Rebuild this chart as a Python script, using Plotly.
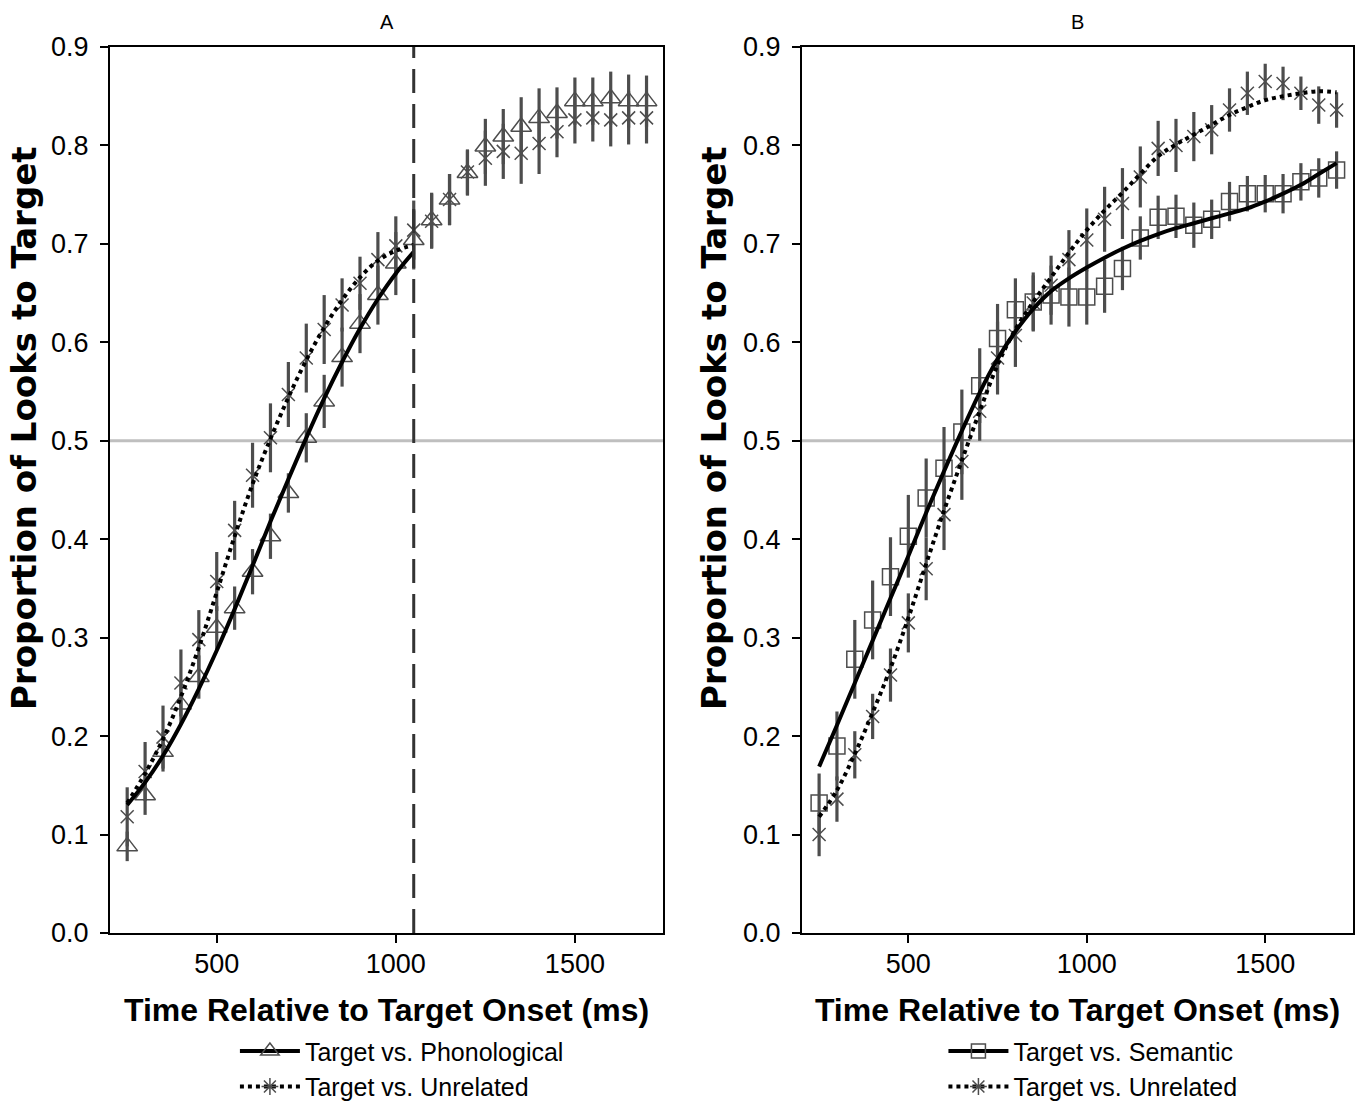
import plotly.graph_objects as go
from plotly.subplots import make_subplots

# Time bins (ms after target onset)
time_ms = [250, 300, 350, 400, 450, 500, 550, 600, 650, 700, 750, 800, 850, 900, 950,
           1000, 1050, 1100, 1150, 1200, 1250, 1300, 1350, 1400, 1450, 1500, 1550, 1600, 1650, 1700]
fit_time_a = time_ms[:17]          # fitted window for panel A ends at 1050 ms
fit_time_b = time_ms               # panel B fitted over the full window

# Panel A: observed proportions and standard errors
a_phon = [0.088, 0.140, 0.184, 0.232, 0.260, 0.310, 0.330, 0.367, 0.403, 0.447, 0.503, 0.540, 0.585,
          0.619, 0.648, 0.680, 0.704, 0.724, 0.745, 0.772, 0.799, 0.809, 0.819, 0.828, 0.833, 0.845,
          0.845, 0.848, 0.845, 0.845]
a_phon_se = [0.015, 0.020, 0.020, 0.020, 0.022, 0.022, 0.022, 0.023, 0.023, 0.020, 0.025, 0.027, 0.030,
             0.030, 0.030, 0.032, 0.030, 0.028, 0.026, 0.023, 0.028, 0.028, 0.030, 0.030, 0.026, 0.024,
             0.024, 0.027, 0.027, 0.026]
a_unrel = [0.118, 0.164, 0.199, 0.254, 0.298, 0.357, 0.409, 0.465, 0.503, 0.547, 0.584, 0.613, 0.638,
           0.660, 0.684, 0.698, 0.714, 0.723, 0.745, 0.773, 0.787, 0.794, 0.792, 0.802, 0.814, 0.826,
           0.828, 0.826, 0.828, 0.828]
a_unrel_se = [0.030, 0.030, 0.032, 0.034, 0.030, 0.030, 0.030, 0.033, 0.035, 0.033, 0.035, 0.035, 0.027,
              0.027, 0.028, 0.030, 0.030, 0.028, 0.026, 0.023, 0.028, 0.028, 0.031, 0.031, 0.026, 0.024,
              0.024, 0.027, 0.027, 0.026]
# Panel A: model fits
a_phon_fit = [0.130, 0.153, 0.180, 0.212, 0.248, 0.287, 0.329, 0.373, 0.418, 0.461, 0.503, 0.543,
              0.580, 0.614, 0.644, 0.670, 0.692]
a_unrel_fit = [0.132, 0.162, 0.197, 0.240, 0.290, 0.346, 0.403, 0.456, 0.502, 0.544, 0.582, 0.615,
               0.643, 0.666, 0.683, 0.693, 0.699]

# Panel B: observed proportions and standard errors
b_sem = [0.132, 0.190, 0.278, 0.318, 0.362, 0.403, 0.442, 0.472, 0.509, 0.556, 0.604, 0.633, 0.641,
         0.648, 0.646, 0.646, 0.657, 0.675, 0.706, 0.727, 0.728, 0.719, 0.725, 0.743, 0.751, 0.751,
         0.751, 0.763, 0.767, 0.775]
b_sem_se = [0.030, 0.035, 0.040, 0.040, 0.040, 0.042, 0.040, 0.042, 0.043, 0.038, 0.035, 0.032, 0.030,
            0.030, 0.030, 0.028, 0.027, 0.022, 0.022, 0.022, 0.022, 0.023, 0.020, 0.020, 0.018, 0.019,
            0.020, 0.019, 0.020, 0.019]
b_unrel = [0.100, 0.136, 0.181, 0.220, 0.262, 0.315, 0.370, 0.425, 0.479, 0.530, 0.584, 0.607, 0.640,
           0.658, 0.684, 0.704, 0.725, 0.741, 0.768, 0.797, 0.800, 0.809, 0.816, 0.836, 0.853, 0.865,
           0.863, 0.853, 0.841, 0.836]
b_unrel_se = [0.022, 0.023, 0.024, 0.023, 0.027, 0.030, 0.032, 0.036, 0.039, 0.030, 0.037, 0.032, 0.028,
              0.030, 0.030, 0.032, 0.033, 0.036, 0.031, 0.028, 0.027, 0.025, 0.025, 0.022, 0.022, 0.018,
              0.017, 0.017, 0.019, 0.018]
# Panel B: model fits
b_sem_fit = [0.169, 0.211, 0.254, 0.297, 0.340, 0.383, 0.427, 0.469, 0.510, 0.549, 0.583, 0.611, 0.634,
             0.652, 0.665, 0.676, 0.686, 0.695, 0.703, 0.710, 0.716, 0.721, 0.726, 0.731, 0.736, 0.743,
             0.751, 0.760, 0.771, 0.782]
b_unrel_fit = [0.118, 0.145, 0.182, 0.224, 0.269, 0.320, 0.375, 0.429, 0.480, 0.530, 0.577, 0.613, 0.641,
               0.666, 0.691, 0.714, 0.734, 0.752, 0.771, 0.789, 0.801, 0.811, 0.821, 0.831, 0.839, 0.846,
               0.850, 0.853, 0.855, 0.854]

panel_titles = ["A", "B"]
x_title = "Time Relative to Target Onset (ms)"
y_title = "Proportion of Looks to Target"
x_ticks = [500, 1000, 1500]
y_ticks = [0.0, 0.1, 0.2, 0.3, 0.4, 0.5, 0.6, 0.7, 0.8, 0.9]
divider_ms = 1050

GREY = "#4d4d4d"
FONT = "Liberation Sans, Arial, sans-serif"

fig = make_subplots(rows=1, cols=2, horizontal_spacing=0.1118)


def observed(x, y, se, symbol, size, col):
    fig.add_trace(go.Scatter(
        x=x, y=y, mode="markers", showlegend=False,
        marker=dict(symbol=symbol, size=size, color=GREY, line=dict(color=GREY, width=1.5)),
        error_y=dict(type="data", array=se, visible=True, color=GREY, thickness=3.2, width=0),
    ), row=1, col=col)


def fitted(x, y, dash, col):
    fig.add_trace(go.Scatter(
        x=x, y=y, mode="lines", showlegend=False,
        line=dict(color="black", width=4, dash=dash, shape="spline", smoothing=1.0),
    ), row=1, col=col)


def key(name, dash, symbol, size, legend):
    fig.add_trace(go.Scatter(
        x=[None], y=[None], mode="lines+markers", name=name, legend=legend,
        line=dict(color="black", width=4, dash=dash),
        marker=dict(symbol=symbol, size=size, color=GREY, line=dict(color=GREY, width=1.5)),
    ))


# Panel A
observed(time_ms, a_phon, a_phon_se, "triangle-up-open", 18, 1)
observed(time_ms, a_unrel, a_unrel_se, "x-thin-open", 13, 1)
fitted(fit_time_a, a_phon_fit, "solid", 1)
fitted(fit_time_a, a_unrel_fit, "dot", 1)

# Panel B
observed(time_ms, b_sem, b_sem_se, "square-open", 16, 2)
observed(time_ms, b_unrel, b_unrel_se, "x-thin-open", 13, 2)
fitted(fit_time_b, b_sem_fit, "solid", 2)
fitted(fit_time_b, b_unrel_fit, "dot", 2)

# Legend entries
key("Target vs. Phonological", "solid", "triangle-up-open", 16, "legend")
key("Target vs. Unrelated", "dot", "asterisk-open", 14, "legend")
key("Target vs. Semantic", "solid", "square-open", 14, "legend2")
key("Target vs. Unrelated", "dot", "asterisk-open", 14, "legend2")

# Chance line in both panels and the analysis-window boundary in A
for xref, yref in (("x domain", "y"), ("x2 domain", "y2")):
    fig.add_shape(type="line", xref=xref, yref=yref, x0=0, x1=1, y0=0.5, y1=0.5,
                  line=dict(color="#bfbfbf", width=3), layer="below")
fig.add_shape(type="line", xref="x", yref="y domain", x0=divider_ms, x1=divider_ms, y0=0, y1=1,
              line=dict(color="#333333", width=3, dash="24px,11px"), layer="above")

axis_common = dict(showline=True, mirror=True, linecolor="black", linewidth=2,
                   ticks="outside", ticklen=8, tickwidth=2, tickcolor="black",
                   showgrid=False, zeroline=False, tickfont=dict(family=FONT, size=27, color="black"))

for c in (1, 2):
    fig.update_xaxes(range=[202, 1746], tickvals=x_ticks, ticklabelstandoff=-2,
                     title=dict(text="<b>" + x_title + "</b>", standoff=20,
                                font=dict(family=FONT, size=32, color="black")),
                     row=1, col=c, **axis_common)
    fig.update_yaxes(range=[0, 0.9], tickvals=y_ticks, tickformat=".1f", ticklabelstandoff=6,
                     row=1, col=c, **axis_common)

# Y-axis titles, placed slightly above the vertical centre of each panel
for xpos in (-0.0692, 0.4859):
    fig.add_annotation(text="<b>" + y_title + "</b>", xref="paper", yref="paper",
                       x=xpos, y=0.570, textangle=-90, showarrow=False,
                       xanchor="center", yanchor="middle",
                       font=dict(family="DejaVu Sans", size=34, color="black"))

for i, t in enumerate(panel_titles):
    fig.add_annotation(text=t, xref="x%s domain" % ("" if i == 0 else i + 1), yref="paper",
                       x=0.5, y=1.028, showarrow=False, yanchor="middle",
                       font=dict(family=FONT, size=20, color="black"))

legend_style = dict(font=dict(family=FONT, size=25, color="black"), bgcolor="rgba(0,0,0,0)",
                    orientation="v", xanchor="left", yanchor="top", itemwidth=60,
                    tracegroupgap=0)
fig.update_layout(
    width=1363, height=1104,
    margin=dict(l=110, r=10, t=47, b=171, autoexpand=False),
    plot_bgcolor="white", paper_bgcolor="white",
    font=dict(family=FONT, color="black"),
    legend=dict(x=0.1005, y=-0.1075, **legend_style),
    legend2=dict(x=0.6705, y=-0.1075, **legend_style),
)
fig.update_xaxes(domain=[0.0, 0.4449], row=1, col=1)
fig.update_xaxes(domain=[0.5567, 1.0], row=1, col=2)

fig.write_html("out.html")
